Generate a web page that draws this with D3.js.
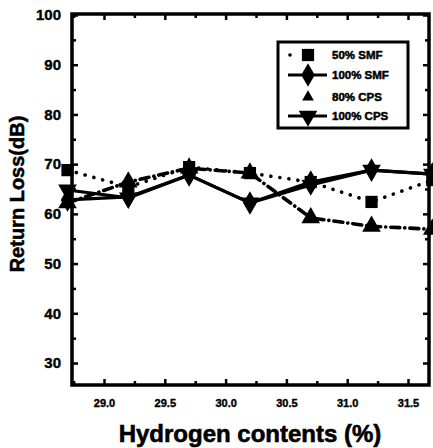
<!DOCTYPE html>
<html><head><meta charset="utf-8">
<script src="https://cdn.jsdelivr.net/npm/d3@7"></script>
<style>
body{margin:0;background:#fff;}
text{font-family:"Liberation Sans",Arial,sans-serif;font-weight:bold;fill:#000;}
</style></head>
<body><svg id="c" width="433" height="448"></svg>
<script>
// ---- data ----
const hydrogen = [28.7, 29.2, 29.7, 30.2, 30.7, 31.2, 31.7];
const smf50  = [68.8, 65.4, 69.4, 68.2, 66.4, 62.4, 66.8];
const smf100 = [62.8, 63.4, 67.8, 62.2, 66.4, 68.8, 68.0];
const cps80  = [62.2, 66.4, 69.2, 68.2, 59.2, 57.5, 56.9];
const cps100 = [64.8, 63.2, 67.8, 62.2, 65.8, 68.8, 68.0];
const seriesNames = ["50% SMF", "100% SMF", "80% CPS", "100% CPS"];
const xTickLabels = ["29.0", "29.5", "30.0", "30.5", "31.0", "31.5"];
const yTickLabels = ["30", "40", "50", "60", "70", "80", "90", "100"];

const svg = d3.select("#c");
const L = 72, R = 429, T = 14, B = 385;
const x = d3.scaleLinear().domain([29.0, 31.5]).range([104, 408]);
const y = d3.scaleLinear().domain([30, 100]).range([363, 15]);

const xMajor = xTickLabels.map(Number);
const xMinor = d3.range(28.75, 31.7, 0.5);
const yMajor = yTickLabels.map(Number);
const yMinor = d3.range(35, 100, 10);

const gx = svg.append("g").attr("transform", `translate(0,${B})`)
  .call(d3.axisBottom(x).tickValues(xMajor).tickFormat((d,i)=>xTickLabels[i]).tickSizeInner(-6).tickSizeOuter(0).tickPadding(14));
svg.append("g").attr("transform", `translate(0,${B})`)
  .call(d3.axisBottom(x).tickValues(xMinor).tickFormat("").tickSizeInner(-4).tickSizeOuter(0));
svg.append("g").attr("transform", `translate(0,${T})`)
  .call(d3.axisTop(x).tickValues(xMajor).tickFormat("").tickSizeInner(-6).tickSizeOuter(0));
svg.append("g").attr("transform", `translate(0,${T})`)
  .call(d3.axisTop(x).tickValues(xMinor).tickFormat("").tickSizeInner(-4).tickSizeOuter(0));
const gy = svg.append("g").attr("transform", `translate(${L},0)`)
  .call(d3.axisLeft(y).tickValues(yMajor).tickFormat((d,i)=>yTickLabels[i]).tickSizeInner(-6).tickSizeOuter(0).tickPadding(10));
svg.append("g").attr("transform", `translate(${L},0)`)
  .call(d3.axisLeft(y).tickValues(yMinor).tickFormat("").tickSizeInner(-4).tickSizeOuter(0));
svg.append("g").attr("transform", `translate(${R},0)`)
  .call(d3.axisRight(y).tickValues(yMajor).tickFormat("").tickSizeInner(-6).tickSizeOuter(0));
svg.append("g").attr("transform", `translate(${R},0)`)
  .call(d3.axisRight(y).tickValues(yMinor).tickFormat("").tickSizeInner(-4).tickSizeOuter(0));
svg.selectAll(".domain").remove();
svg.selectAll(".tick line").attr("stroke","#000").attr("stroke-width",2.5);
gx.selectAll("text").attr("font-size",11).attr("font-family","Liberation Sans, Arial").attr("font-weight","bold")
  .attr("stroke","#000").attr("stroke-width",0.4);
gy.selectAll("text").attr("font-size",15).attr("font-family","Liberation Sans, Arial").attr("font-weight","bold").attr("dx",-1)
  .attr("stroke","#000").attr("stroke-width",0.4);

// frame
svg.append("rect").attr("x",L).attr("y",T).attr("width",R-L).attr("height",B-T)
  .attr("fill","none").attr("stroke","#000").attr("stroke-width",3.5);

// series
const styles = [
  {vals: smf50,  dash: "0.1 9", cap:"round", sym: d3.symbolSquare, size: 150, rot:0},
  {vals: smf100, dash: null, cap:"butt", sym: d3.symbolDiamond, size: 160, rot:0},
  {vals: cps80,  dash: "9 5 0.1 5", cap:"round", sym: d3.symbolTriangle, size: 150, rot:0},
  {vals: cps100, dash: null, cap:"butt", sym: d3.symbolTriangle, size: 150, rot:180},
];
const line = d3.line().x((d,i)=>x(hydrogen[i])).y(d=>y(d));
styles.forEach(s=>{
  const p = svg.append("path").datum(s.vals).attr("d", line)
    .attr("fill","none").attr("stroke","#000").attr("stroke-width", 3.2)
    .attr("stroke-linecap", s.cap).attr("stroke-linejoin","round");
  if (s.dash) p.attr("stroke-dasharray", s.dash).attr("stroke-width", 3.6);
  svg.append("g").selectAll("path").data(s.vals).join("path")
    .attr("d", d3.symbol().type(s.sym).size(s.size))
    .attr("transform",(d,i)=>`translate(${x(hydrogen[i])},${y(d)}) rotate(${s.rot})`)
    .attr("fill","#000");
});

// legend
const lg = svg.append("g");
lg.append("rect").attr("x",278).attr("y",42).attr("width",130).attr("height",86)
  .attr("fill","#fff").attr("stroke","#000").attr("stroke-width",3);
const rowsY = [55, 75, 97, 116];
styles.forEach((s,i)=>{
  const yy = rowsY[i];
  if (i===0) lg.append("circle").attr("cx",290).attr("cy",yy).attr("r",1.8).attr("fill","#000");
  if (i===1 || i===3) lg.append("line").attr("x1",288).attr("x2",327).attr("y1",yy).attr("y2",yy)
    .attr("stroke","#000").attr("stroke-width",3.2);
  lg.append("path").attr("d", d3.symbol().type(s.sym).size(i===2?60:s.size))
    .attr("transform",`translate(308,${yy}) rotate(${s.rot})`).attr("fill","#000");
  lg.append("text").attr("x",332).attr("y",yy+4).attr("font-size",11.5)
    .attr("stroke","#000").attr("stroke-width",0.5).text(seriesNames[i]);
});

// axis titles
svg.append("text").attr("x",250).attr("y",442).attr("text-anchor","middle")
  .attr("font-size",24).attr("stroke","#000").attr("stroke-width",0.6).text("Hydrogen contents (%)");
svg.append("text").attr("transform","translate(24,194) rotate(-90)").attr("text-anchor","middle")
  .attr("font-size",20).attr("stroke","#000").attr("stroke-width",0.5).text("Return Loss(dB)");
</script></body></html>
